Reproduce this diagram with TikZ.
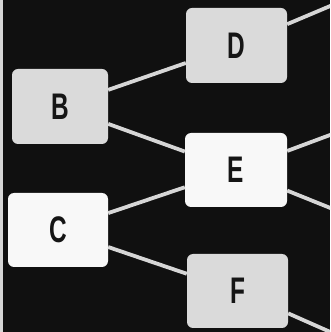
\documentclass[tikz,border=0pt]{standalone}
\usepackage{graphicx}
\usepackage{fontspec}
\setmainfont{Liberation Sans}
\definecolor{bgblack}{HTML}{101010}
\definecolor{boxgray}{HTML}{DADADA}
\definecolor{boxwhite}{HTML}{F8F8F8}
\definecolor{linegray}{HTML}{D6D6D6}
\definecolor{inkblack}{HTML}{151515}
\newcommand{\lbl}[1]{\scalebox{0.66}[1]{\fontsize{37}{37}\selectfont\bfseries #1}}
\begin{document}
\begin{tikzpicture}[x=1pt,y=1pt,
  box/.style={rectangle, rounded corners=6pt, inner sep=0pt, text=inkblack},
  graybox/.style={box, fill=boxgray},
  whitebox/.style={box, fill=boxwhite},
  link/.style={draw=linegray, line width=3.8pt}]
\useasboundingbox (0,0) rectangle (330,332);
\fill[bgblack] (0,0) rectangle (330,332);
\fill[linegray] (0,0) rectangle (2.6,332);
\clip (0,0) rectangle (330,332);
\node[graybox, minimum width=96pt, minimum height=75pt] (B) at (60,225.5) {\lbl{B}};
\node[whitebox, minimum width=100pt, minimum height=74pt] (C) at (58,102) {\lbl{C}};
\node[graybox, minimum width=101pt, minimum height=75pt] (D) at (236.5,286.5) {\lbl{D}};
\node[whitebox, minimum width=102pt, minimum height=74pt] (E) at (236,162) {\lbl{E}};
\node[graybox, minimum width=101pt, minimum height=74pt] (F) at (237.5,41) {\lbl{F}};
\coordinate (Dout) at (380,347);
\coordinate (Eup) at (380,215.6);
\coordinate (Edown) at (380,104);
\coordinate (Fout) at (380,-22);
\draw[link] (B) -- (D);
\draw[link] (B) -- (E);
\draw[link] (C) -- (E);
\draw[link] (C) -- (F);
\draw[link] (D) -- (Dout);
\draw[link] (E) -- (Eup);
\draw[link] (E) -- (Edown);
\draw[link] (F) -- (Fout);
\end{tikzpicture}
\end{document}
